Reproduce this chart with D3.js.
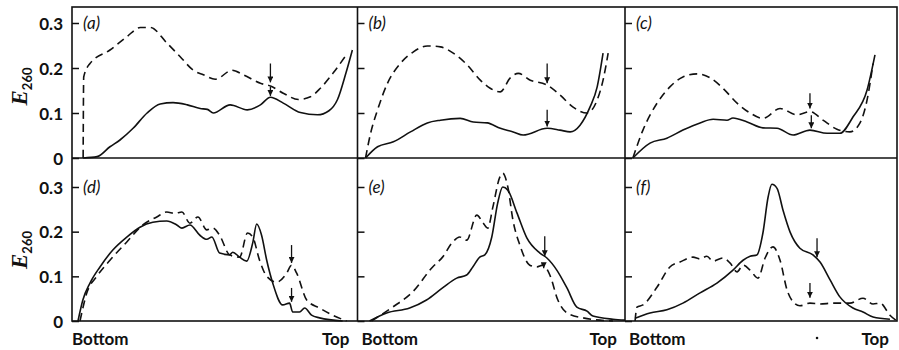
<!DOCTYPE html>
<html>
<head>
<meta charset="utf-8">
<script src="https://cdn.jsdelivr.net/npm/d3@7"></script>
<style>
  body { margin: 0; background: #fff; }
  svg { display: block; }
  .tick text { font-family: Lato, "Open Sans", sans-serif; font-weight: bold; font-size: 17px; fill: #111; }
</style>
</head>
<body>
<div id="wrapper"></div>
<script>
// x = position along the gradient (% of panel width), y = E260
const aDashed = [[3.9,0],[4.1,0.18],[6.3,0.21],[13.3,0.24],[19.3,0.27],[23.9,0.29],[27.4,0.29],[33.3,0.255],[37.9,0.225],[42.5,0.195],[46,0.185],[50.2,0.175],[56.1,0.195],[60,0.185],[66,0.166],[69.5,0.16],[74,0.144],[79.3,0.13],[83.5,0.136],[87,0.155],[91.6,0.19],[96.5,0.233]];
const aSolid = [[3.9,0],[8.8,0.003],[13.3,0.025],[16.8,0.04],[21.4,0.066],[26.3,0.1],[30.9,0.12],[35.4,0.123],[40.4,0.118],[44.9,0.11],[47.4,0.108],[49.5,0.1],[55.4,0.118],[61.4,0.107],[66,0.118],[69.5,0.135],[74,0.122],[80,0.101],[86,0.096],[90,0.105],[93,0.13],[96,0.19],[98.2,0.24]];
const bDashed = [[3,0],[4.9,0.055],[7.5,0.107],[11.2,0.166],[16,0.21],[20.9,0.236],[26.1,0.249],[31,0.247],[35.8,0.233],[41,0.207],[45.9,0.173],[49.6,0.155],[53.4,0.147],[57.1,0.178],[60.1,0.188],[64.6,0.173],[70.9,0.162],[75.7,0.14],[80.6,0.113],[85.8,0.1],[89.6,0.129],[91.8,0.173],[93.7,0.233]];
const bSolid = [[3,0],[7.5,0.025],[13.4,0.036],[19.8,0.058],[26.1,0.078],[31,0.084],[38.4,0.088],[43.3,0.08],[48.5,0.078],[53.4,0.066],[58.2,0.058],[61.9,0.051],[70.9,0.066],[75.7,0.062],[79.5,0.058],[83.2,0.073],[86.9,0.113],[89.6,0.158],[91.8,0.233]];
const cDashed = [[2.9,0],[6.6,0.062],[11.8,0.122],[16.5,0.158],[21.3,0.18],[26.5,0.187],[31.3,0.178],[36,0.155],[41.2,0.122],[46,0.1],[50.7,0.088],[57,0.11],[63.2,0.096],[68,0.103],[72.8,0.084],[77.9,0.064],[82.7,0.058],[86.4,0.078],[89,0.129],[91.2,0.21]];
const cSolid = [[2.9,0],[9.2,0.033],[15.4,0.044],[21.3,0.062],[27.6,0.078],[32.4,0.086],[37.5,0.084],[39.7,0.089],[44.9,0.08],[50.7,0.067],[55.9,0.066],[61.8,0.051],[68,0.062],[74.3,0.055],[79,0.055],[83.8,0.091],[89,0.151],[91.9,0.229]];
const dDashed = [[2.8,0],[5.2,0.063],[8.7,0.1],[13.3,0.136],[19.2,0.177],[24.8,0.215],[29.7,0.233],[33.2,0.244],[36,0.241],[38.5,0.244],[41.3,0.219],[44.1,0.233],[47.2,0.204],[49.3,0.208],[51.7,0.192],[55.2,0.148],[58.7,0.143],[61.5,0.197],[63.3,0.188],[65.7,0.136],[68.2,0.1],[71.7,0.087],[75.2,0.107],[76.9,0.125],[78.7,0.107],[82.2,0.047],[86.7,0.029],[91.3,0.013],[96.2,0]];
const dSolid = [[2.1,0],[3.8,0.047],[6.3,0.085],[9.8,0.121],[14.3,0.159],[19.2,0.188],[23.8,0.21],[28.3,0.221],[33.2,0.224],[36.7,0.215],[38.5,0.208],[41.3,0.215],[44.8,0.192],[47.2,0.183],[49,0.188],[51.7,0.152],[55.2,0.148],[56.3,0.154],[58.7,0.143],[61.2,0.134],[63.3,0.175],[64.7,0.217],[66.4,0.192],[68.2,0.136],[70.3,0.085],[73.8,0.036],[76.2,0.04],[77.3,0.02],[79.7,0.02],[81.5,0.029],[83.9,0.013],[86.7,0.007],[94.8,0]];
const eDashed = [[5.2,0],[13.1,0.031],[20.6,0.065],[28.1,0.121],[31.8,0.143],[35.6,0.177],[38.2,0.188],[40.8,0.181],[44.6,0.237],[46.8,0.221],[48.7,0.208],[50.6,0.255],[53.2,0.322],[54.3,0.331],[56.2,0.3],[58.1,0.226],[60.7,0.17],[64.4,0.125],[67,0.121],[69.3,0.125],[71.9,0.103],[74.9,0.047],[78.3,0.018],[84.3,0.007],[95.5,0]];
const eSolid = [[4.5,0],[10.9,0.018],[19.5,0.029],[25.8,0.047],[31.8,0.074],[37.1,0.096],[40.8,0.103],[43.1,0.121],[45.7,0.143],[47.6,0.148],[50.2,0.188],[52.4,0.264],[54.3,0.3],[56.2,0.293],[59.6,0.242],[63.3,0.186],[68.2,0.152],[70.8,0.141],[74.5,0.114],[78.3,0.074],[82,0.031],[85.8,0.022],[88,0.011],[95.5,0.004],[100,0.002]];
const fDashed = [[3.7,0],[4.4,0.031],[6.6,0.036],[11.8,0.076],[16.5,0.121],[20.2,0.132],[25,0.143],[27.6,0.139],[30.1,0.145],[32.4,0.134],[36,0.141],[38.6,0.13],[41.2,0.11],[43.4,0.125],[46,0.114],[48.9,0.096],[51.5,0.141],[54.4,0.166],[57,0.136],[59.6,0.069],[61.8,0.043],[64.3,0.034],[68,0.04],[71.7,0.038],[76.5,0.04],[82.7,0.04],[87.5,0.051],[91.2,0.038],[93.8,0.04],[97.4,0.013],[100,0]];
const fSolid = [[3.7,0.006],[9.2,0.018],[15.4,0.025],[21.3,0.04],[27.6,0.063],[33.8,0.085],[39.7,0.114],[43.4,0.136],[46,0.145],[48.5,0.148],[50.7,0.197],[52.6,0.277],[54,0.306],[55.9,0.297],[58.1,0.248],[60.7,0.199],[64.3,0.163],[69.1,0.148],[71.7,0.132],[75.4,0.092],[79,0.054],[83.8,0.029],[87.5,0.02],[91.2,0.009],[97.4,0.004]];

const panelNames = ["(a)", "(b)", "(c)", "(d)", "(e)", "(f)"];
const dashedSeries = [aDashed, bDashed, cDashed, dDashed, eDashed, fDashed];
const solidSeries = [aSolid, bSolid, cSolid, dSolid, eSolid, fSolid];
// arrows: panel index, x (%), from and to (E260)
const arrows = [
  [0, 69.5, 0.21, 0.168], [0, 69.5, 0.158, 0.138],
  [1, 70.9, 0.21, 0.166], [1, 70.9, 0.107, 0.07],
  [2, 68, 0.144, 0.11], [2, 68.5, 0.095, 0.066],
  [3, 76.9, 0.17, 0.13], [3, 76.9, 0.074, 0.043],
  [4, 70, 0.19, 0.145], [4, 69.6, 0.13, 0.118],
  [5, 70.6, 0.185, 0.143], [5, 68, 0.085, 0.052]
];
const tickValues = [0, 0.1, 0.2, 0.3];
const yLabelMain = "E";
const yLabelSub = "260";
const xLabels = ["Bottom", "Top"];

const width = 899, height = 350;
const cols = [72, 357.5, 625, 897];
const rows = [{ base: 158, top3: 23 }, { base: 321, top3: 187 }];

const svg = d3.select("#wrapper").append("svg")
  .attr("width", width)
  .attr("height", height);

svg.append("defs").append("marker")
  .attr("id", "head")
  .attr("viewBox", "0 0 10 10")
  .attr("refX", 10).attr("refY", 5)
  .attr("markerWidth", 6).attr("markerHeight", 6)
  .attr("markerUnits", "userSpaceOnUse")
  .attr("orient", "auto")
  .append("path")
  .attr("d", "M0,0 L10,5 L0,10 Z")
  .attr("fill", "#111");

const line = d3.line().curve(d3.curveMonotoneX);

const panels = panelNames.map((name, i) => {
  const r = rows[Math.floor(i / 3)];
  const c = i % 3;
  const x = d3.scaleLinear().domain([0, 100]).range([cols[c], cols[c + 1]]);
  const y = d3.scaleLinear().domain([0, 0.3]).range([r.base, r.top3]);
  return { name, i, c, row: Math.floor(i / 3), x, y };
});

panels.forEach(p => {
  const g = svg.append("g");
  const axis = d3.axisLeft(p.y)
    .tickValues(tickValues)
    .tickSizeInner(-7)
    .tickSizeOuter(0)
    .tickPadding(9)
    .tickFormat(p.c === 0 ? (d => d === 0 ? "0" : d3.format(".1f")(d)) : "");
  const ax = g.append("g")
    .attr("transform", `translate(${p.x.range()[0]},0)`)
    .call(axis);
  ax.select(".domain").remove();
  ax.selectAll(".tick line").attr("stroke", "#111").attr("stroke-width", 1.5);
  ax.selectAll(".tick text").attr("dy", "0.36em");

  g.append("text")
    .attr("x", p.x.range()[0] + 11)
    .attr("y", p.y(0.3) + 6)
    .attr("font-family", "Lato, 'Open Sans', sans-serif")
    .attr("font-style", "italic")
    .attr("font-size", 17)
    .attr("fill", "#111")
    .text(p.name);

  g.append("path")
    .datum(dashedSeries[p.i])
    .attr("fill", "none")
    .attr("stroke", "#111")
    .attr("stroke-width", 1.6)
    .attr("stroke-dasharray", "8,5")
    .attr("d", line.x(d => p.x(d[0])).y(d => p.y(d[1])));

  g.append("path")
    .datum(solidSeries[p.i])
    .attr("fill", "none")
    .attr("stroke", "#111")
    .attr("stroke-width", 1.6)
    .attr("d", line.x(d => p.x(d[0])).y(d => p.y(d[1])));

  if (p.row === 1) {
    g.append("text")
      .attr("x", p.x.range()[0] + (p.c === 0 ? 0 : 4))
      .attr("y", 345)
      .attr("font-family", "Lato, 'Open Sans', sans-serif")
      .attr("font-weight", "bold")
      .attr("font-size", 17)
      .attr("fill", "#111")
      .text(xLabels[0]);
    g.append("text")
      .attr("x", p.x.range()[1] - 8)
      .attr("y", 345)
      .attr("text-anchor", "end")
      .attr("font-family", "Lato, 'Open Sans', sans-serif")
      .attr("font-weight", "bold")
      .attr("font-size", 17)
      .attr("fill", "#111")
      .text(xLabels[1]);
  }
});

// the little dot under panel (f)
svg.append("circle")
  .attr("cx", panels[5].x(70.6)).attr("cy", 338).attr("r", 1.3).attr("fill", "#111");

arrows.forEach(([pi, ax, from, to]) => {
  const p = panels[pi];
  svg.append("line")
    .attr("x1", p.x(ax)).attr("x2", p.x(ax))
    .attr("y1", p.y(from)).attr("y2", p.y(to))
    .attr("stroke", "#111")
    .attr("stroke-width", 1.3)
    .attr("marker-end", "url(#head)");
});

// frames
const frame = svg.append("g").attr("stroke", "#111").attr("stroke-width", 1.6).attr("fill", "none");
frame.append("rect")
  .attr("x", cols[0]).attr("y", 7)
  .attr("width", cols[3] - cols[0]).attr("height", rows[1].base - 7);
frame.append("line").attr("x1", cols[0]).attr("x2", cols[3]).attr("y1", rows[0].base).attr("y2", rows[0].base);
[cols[1], cols[2]].forEach(cx => {
  frame.append("line").attr("x1", cx).attr("x2", cx).attr("y1", 7).attr("y2", rows[1].base);
});

// y labels
rows.forEach(r => {
  const cy = (r.base + r.top3) / 2 - 4;
  const t = svg.append("text")
    .attr("transform", `translate(27,${cy}) rotate(-90)`)
    .attr("text-anchor", "middle")
    .attr("fill", "#111");
  t.append("tspan")
    .attr("font-family", "'Liberation Serif', 'DejaVu Serif', serif")
    .attr("font-style", "italic")
    .attr("font-weight", "bold")
    .attr("font-size", 23)
    .text(yLabelMain);
  t.append("tspan")
    .attr("font-family", "Lato, 'Open Sans', sans-serif")
    .attr("font-weight", "bold")
    .attr("font-size", 13)
    .attr("dy", 5)
    .text(yLabelSub);
});
</script>
</body>
</html>
